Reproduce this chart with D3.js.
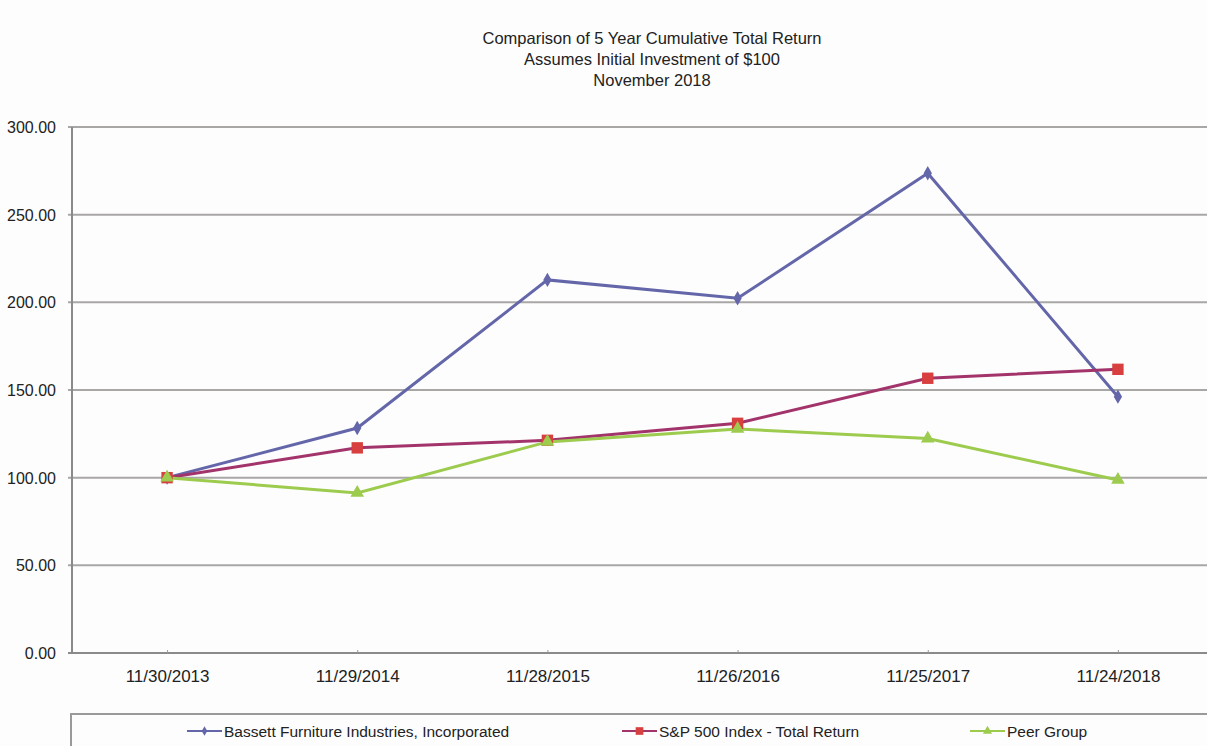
<!DOCTYPE html>
<html>
<head>
<meta charset="utf-8">
<script src="https://cdn.jsdelivr.net/npm/d3@7"></script>
<style>
  body { margin: 0; background: #fdfdfd; }
  svg { display: block; }
  text { font-family: "Liberation Sans", Arial, sans-serif; fill: #222; }
</style>
</head>
<body>
<div id="chart"></div>
<script>
// data
const dates = ["11/30/2013", "11/29/2014", "11/28/2015", "11/26/2016", "11/25/2017", "11/24/2018"];
const bassett = [100, 128.3, 212.8, 202.3, 273.6, 146.2];
const sp500 = [100, 117.0, 121.3, 131.0, 156.7, 161.8];
const peer = [100, 91.3, 120.4, 127.8, 122.3, 98.7];
const yTicks = [0, 50, 100, 150, 200, 250, 300];
const titleLines = ["Comparison of 5 Year Cumulative Total Return", "Assumes Initial Investment of $100", "November 2018"];

const series = [
  { name: "Bassett Furniture Industries, Incorporated", values: bassett, line: "#6466aa", fill: "#6466aa", symbol: d3.symbolDiamond, size: 60 },
  { name: "S&P 500 Index - Total Return", values: sp500, line: "#a3346b", fill: "#d8403f", symbol: d3.symbolSquare, size: 130 },
  { name: "Peer Group", values: peer, line: "#9ccb4e", fill: "#9ccb4e", symbol: d3.symbolTriangle, size: 80 }
];

const W = 1207, H = 746;
const MARGIN = { LEFT: 72, TOP: 127, BOTTOM: 653 };

const svg = d3.select("#chart").append("svg")
  .attr("width", W)
  .attr("height", H);

// title
svg.append("g").selectAll("text").data(titleLines).enter()
  .append("text")
  .attr("x", 652)
  .attr("y", (d, i) => 44 + i * 21)
  .attr("text-anchor", "middle")
  .attr("font-size", "16.5px")
  .text(d => d);

const x = d3.scalePoint()
  .domain(dates)
  .range([MARGIN.LEFT, 1213])
  .padding(0.5);

const y = d3.scaleLinear()
  .domain([0, 300])
  .range([MARGIN.BOTTOM, MARGIN.TOP]);

// gridlines
svg.append("g").selectAll("line").data(yTicks).enter()
  .append("line")
  .attr("x1", MARGIN.LEFT - 4)
  .attr("x2", W)
  .attr("y1", d => y(d))
  .attr("y2", d => y(d))
  .attr("stroke", d => d === 0 ? "#8a8a8a" : "#a9a6a6")
  .attr("stroke-width", 2);

// left axis line
svg.append("line")
  .attr("x1", MARGIN.LEFT).attr("x2", MARGIN.LEFT)
  .attr("y1", y(300)).attr("y2", y(0))
  .attr("stroke", "#8a8a8a")
  .attr("stroke-width", 2);

// y labels
svg.append("g").selectAll("text").data(yTicks).enter()
  .append("text")
  .attr("x", 56)
  .attr("y", d => y(d) + 6)
  .attr("text-anchor", "end")
  .attr("font-size", "16px")
  .text(d => d3.format(".2f")(d));

// x ticks + labels
const xAxis = d3.axisBottom(x).tickSize(3).tickSizeOuter(0).tickPadding(14);
const gx = svg.append("g")
  .attr("transform", `translate(0, ${y(0)})`)
  .call(xAxis);
gx.select(".domain").remove();
gx.selectAll(".tick line").attr("stroke", "#999").attr("transform", "translate(0,-3)");
gx.selectAll("text").attr("font-size", "17px").attr("fill", "#222")
  .attr("font-family", "\"Liberation Sans\", Arial, sans-serif");

// lines + markers
const line = d3.line()
  .x((d, i) => x(dates[i]))
  .y(d => y(d));

series.forEach(s => {
  svg.append("path")
    .datum(s.values)
    .attr("d", line)
    .attr("fill", "none")
    .attr("stroke", s.line)
    .attr("stroke-width", 3);
});
series.forEach(s => {
  svg.append("g").selectAll("path").data(s.values).enter()
    .append("path")
    .attr("d", d3.symbol().type(s.symbol).size(s.size))
    .attr("transform", (d, i) => `translate(${x(dates[i])}, ${y(d)})`)
    .attr("fill", s.fill);
});

// legend
svg.append("rect")
  .attr("x", MARGIN.LEFT - 1)
  .attr("y", 714)
  .attr("width", W)
  .attr("height", 60)
  .attr("fill", "none")
  .attr("stroke", "#9a9a9a")
  .attr("stroke-width", 2);

const legendX = [187, 622, 970];
series.forEach((s, i) => {
  const g = svg.append("g").attr("transform", `translate(${legendX[i]}, 731)`);
  g.append("line").attr("x1", 0).attr("x2", 35).attr("stroke", s.line).attr("stroke-width", 2);
  g.append("path")
    .attr("d", d3.symbol().type(s.symbol).size(s.size * 0.45))
    .attr("transform", "translate(17.5,0)")
    .attr("fill", s.fill);
  g.append("text")
    .attr("x", 37)
    .attr("y", 5.5)
    .attr("font-size", "15.5px")
    .text(s.name);
});
</script>
</body>
</html>
